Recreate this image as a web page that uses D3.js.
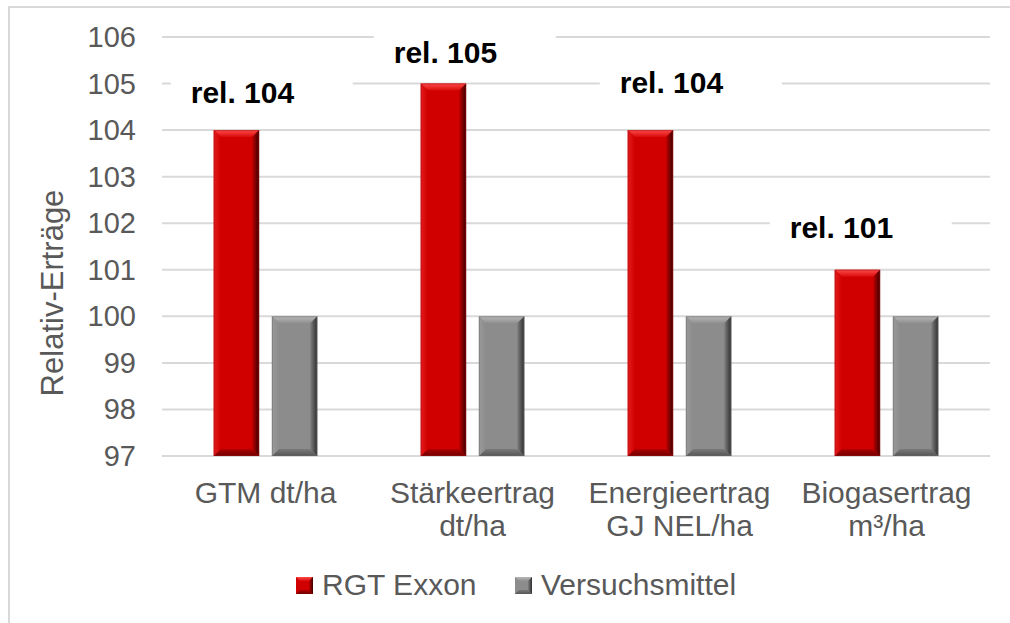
<!DOCTYPE html>
<html><head><meta charset="utf-8">
<script src="https://cdn.jsdelivr.net/npm/d3@7"></script>
<style>
html,body{margin:0;padding:0;background:#fff;}
text{font-family:"Liberation Sans",Arial,sans-serif;}
</style></head>
<body>
<svg id="c" width="1010" height="623"></svg>
<script>
const categories = [["GTM dt/ha"], ["Stärkeertrag", "dt/ha"], ["Energieertrag", "GJ NEL/ha"], ["Biogasertrag", "m³/ha"]];
const categoryKeys = ["GTM", "Staerke", "Energie", "Biogas"];
const seriesNames = ["RGT Exxon", "Versuchsmittel"];
const rgtExxon = [104, 105, 104, 101];
const versuchsmittel = [100, 100, 100, 100];
const relLabels = ["rel. 104", "rel. 105", "rel. 104", "rel. 101"];
const yTicks = [97, 98, 99, 100, 101, 102, 103, 104, 105, 106];
const yTitle = "Relativ-Erträge";

const svg = d3.select("#c");
const W = 1010, H = 623;
const plot = {left: 162, right: 990, top: 37, bottom: 456};

// border
svg.append("path").attr("d", `M9,${H} L9,7 L${W},7`).attr("fill","none").attr("stroke","#d9d9d9").attr("stroke-width",2);

const y = d3.scaleLinear().domain([97,106]).range([plot.bottom, plot.top]);
const x0 = d3.scaleBand().domain(categoryKeys).range([plot.left, plot.right]).paddingInner(0.5).paddingOuter(0.25);
const x1 = d3.scaleBand().domain(seriesNames).range([0, x0.bandwidth()]).paddingInner(0.22);

// gradients
const defs = svg.append("defs");
function grad(id, x1_, y1_, x2_, y2_, stops){
  const g = defs.append("linearGradient").attr("id", id)
    .attr("x1",x1_).attr("y1",y1_).attr("x2",x2_).attr("y2",y2_);
  stops.forEach(s => g.append("stop").attr("offset", s[0]).attr("stop-color", s[1]));
}
const pal = {
  red: {base:"#d00000", top:["#ff4a4a","#d80a0a"], left:["#e41c1c","#d00000"], right:["#c00000","#3a0000"], bot:["#b00000","#6e0000"], edge:"#a01010"},
  gray:{base:"#8c8c8c", top:["#b8b8b8","#8f8f8f"], left:["#9a9a9a","#8c8c8c"], right:["#808080","#2e2e2e"], bot:["#7a7a7a","#555555"], edge:"#6a6a6a"}
};
Object.entries(pal).forEach(([k,p])=>{
  grad(k+"Top","0","0","0","1",[["0",p.top[0]],["1",p.top[1]]]);
  grad(k+"Left","0","0","1","0",[["0",p.left[0]],["1",p.left[1]]]);
  grad(k+"Right","0","0","1","0",[["0",p.right[0]],["1",p.right[1]]]);
  grad(k+"Bot","0","0","0","1",[["0",p.bot[0]],["1",p.bot[1]]]);
});

// gridlines
svg.append("g").selectAll("line").data(yTicks).join("line")
  .attr("x1", plot.left).attr("x2", plot.right)
  .attr("y1", d=>y(d)).attr("y2", d=>y(d))
  .attr("stroke","#d9d9d9").attr("stroke-width",2);

// y tick labels
svg.append("g").selectAll("text").data(yTicks).join("text")
  .attr("x", 136).attr("y", d=>y(d)+10)
  .attr("text-anchor","end").attr("font-size",29).attr("fill","#595959")
  .text(d=>d);

// y title
svg.append("text").attr("transform","translate(63,293) rotate(-90)")
  .attr("text-anchor","middle").attr("font-size",31).attr("fill","#595959")
  .text(yTitle);

// bars
const series = [rgtExxon, versuchsmittel];
const keys = ["red","gray"];
const b = 7;
function bevelBar(g, xL, w, yT, yB, k){
  const xR = xL + w;
  g.append("rect").attr("x",xL).attr("y",yT).attr("width",w).attr("height",yB-yT).attr("fill",pal[k].base);
  g.append("path").attr("d",`M${xL},${yT}L${xR},${yT}L${xR-b},${yT+b}L${xL+b},${yT+b}Z`).attr("fill",`url(#${k}Top)`);
  g.append("path").attr("d",`M${xL},${yB}L${xR},${yB}L${xR-b},${yB-b}L${xL+b},${yB-b}Z`).attr("fill",`url(#${k}Bot)`);
  g.append("path").attr("d",`M${xL},${yT}L${xL+b},${yT+b}L${xL+b},${yB-b}L${xL},${yB}Z`).attr("fill",`url(#${k}Left)`);
  g.append("path").attr("d",`M${xR},${yT}L${xR-b},${yT+b}L${xR-b},${yB-b}L${xR},${yB}Z`).attr("fill",`url(#${k}Right)`);
  g.append("rect").attr("x",xL+0.5).attr("y",yT+0.5).attr("width",w-1).attr("height",yB-yT-1).attr("fill","none").attr("stroke",pal[k].edge).attr("stroke-opacity",0.5).attr("stroke-width",1);
}
const barsG = svg.append("g");
categoryKeys.forEach((c,i)=>{
  seriesNames.forEach((s,j)=>{
    const g = barsG.append("g");
    bevelBar(g, x0(c)+x1(s), x1.bandwidth(), y(series[j][i]), y(97), keys[j]);
  });
});

// value labels (positions tuned relative to red bars)
const labelDx = [-23, -27, -8, -45];
const labelDy = [-38, -32, -48, -43];
const labG = svg.append("g");
categoryKeys.forEach((c,i)=>{
  const lx = x0(c) + x1(seriesNames[0]) + labelDx[i];
  const ly = y(rgtExxon[i]) + labelDy[i];
  labG.append("rect").attr("x", lx-20).attr("y", ly-21).attr("width",182).attr("height",42).attr("fill","#fff");
  labG.append("text").attr("x", lx).attr("y", ly+11).attr("font-size",30).attr("font-weight","bold").attr("fill","#000").text(relLabels[i]);
});

// category labels
const catG = svg.append("g");
categoryKeys.forEach((c,i)=>{
  const t = catG.append("text").attr("text-anchor","middle").attr("font-size",30).attr("fill","#595959");
  categories[i].forEach((line,k)=>{
    t.append("tspan").attr("x", x0(c)+x0.bandwidth()/2).attr("y", 503 + k*33).text(line);
  });
});

// legend
const legX = [296, 515];
seriesNames.forEach((s,j)=>{
  const g = svg.append("g");
  bevelLegend(g, legX[j], 577, 17, keys[j]);
  g.append("text").attr("x", legX[j]+26).attr("y", 595).attr("font-size",30).attr("fill","#595959").text(s);
});
function bevelLegend(g, xL, yT, s, k){
  const bb = 4, xR = xL+s, yB = yT+s;
  g.append("rect").attr("x",xL).attr("y",yT).attr("width",s).attr("height",s).attr("fill",pal[k].base);
  g.append("path").attr("d",`M${xL},${yT}L${xR},${yT}L${xR-bb},${yT+bb}L${xL+bb},${yT+bb}Z`).attr("fill",`url(#${k}Top)`);
  g.append("path").attr("d",`M${xL},${yB}L${xR},${yB}L${xR-bb},${yB-bb}L${xL+bb},${yB-bb}Z`).attr("fill",`url(#${k}Bot)`);
  g.append("path").attr("d",`M${xR},${yT}L${xR-bb},${yT+bb}L${xR-bb},${yB-bb}L${xR},${yB}Z`).attr("fill",`url(#${k}Right)`);
}
</script>
</body></html>
